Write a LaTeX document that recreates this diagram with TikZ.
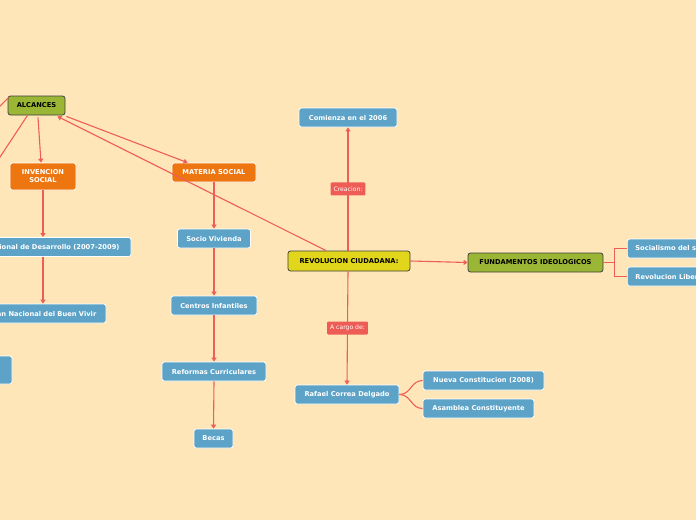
\documentclass[tikz,border=0pt]{standalone}
\usepackage{fontspec}
\setmainfont{DejaVu Sans}
\usetikzlibrary{arrows.meta}
\definecolor{bg}{RGB}{255,230,185}
\definecolor{lineC}{RGB}{238,94,88}
\definecolor{blueC}{RGB}{92,163,199}
\definecolor{orangeC}{RGB}{237,118,17}
\definecolor{greenC}{RGB}{155,181,52}
\definecolor{yellowC}{RGB}{226,214,28}
\definecolor{labC}{RGB}{238,92,86}
\begin{document}
\begin{tikzpicture}[x=1pt,y=-1pt,
  box/.style={rounded corners=2.5pt, minimum height=19pt, inner sep=0pt, align=center,
    font=\fontsize{6.7}{8}\selectfont\bfseries, text=white},
  bluebox/.style={box, fill=blueC, draw=white, line width=0.7pt},
  orangebox/.style={box, fill=orangeC, draw=white, line width=0.7pt},
  greenbox/.style={box, fill=greenC, draw=black!75, line width=0.8pt, text=black},
  yellowbox/.style={box, fill=yellowC, draw=black!75, line width=0.8pt, text=black},
  lab/.style={fill=labC, text=white, rounded corners=1pt, inner xsep=3pt, inner ysep=0pt,
    minimum height=13pt, font=\fontsize{6.1}{7}\selectfont},
  conn/.style={draw=lineC, line width=1.1pt, -{Triangle[width=5pt,length=4pt]}},
  plain/.style={draw=lineC, line width=1.1pt}]
\fill[bg] (0,0) rectangle (696,520);
\useasboundingbox (0,0) rectangle (696,520);

% nodes
\node[greenbox, minimum width=57pt] (alc) at (36.5,105.5) {ALCANCES};
\node[orangebox, minimum width=66pt, minimum height=27pt] (inv) at (43,176.5) {INVENCION\\SOCIAL};
\node[orangebox, minimum width=84pt] (ms) at (214,172.5) {MATERIA SOCIAL};
\node[bluebox, minimum width=176pt] (pnd) at (43,247) {Plan Nacional de Desarrollo (2007-2009)};
\node[bluebox, minimum width=126pt] (pbv) at (43,313.5) {Plan Nacional del Buen Vivir};
\node[bluebox, minimum width=84pt, minimum height=28pt] (lb) at (-30,370) {};
\node[bluebox, minimum width=73pt] (sv) at (214,238.5) {Socio Vivienda};
\node[bluebox, minimum width=86pt] (ci) at (214,305.5) {Centros Infantiles};
\node[bluebox, minimum width=104pt] (rcu) at (214,371.5) {Reformas Curriculares};
\node[bluebox, minimum width=39pt] (bec) at (213.5,438.5) {Becas};
\node[bluebox, minimum width=98pt] (com) at (348,117.5) {Comienza en el 2006};
\node[yellowbox, minimum width=122pt, minimum height=20pt] (rc) at (349,261) {REVOLUCION CIUDADANA:};
\node[bluebox, minimum width=104pt] (raf) at (347,394.5) {Rafael Correa Delgado};
\node[bluebox, minimum width=121pt] (nc) at (483.5,380.5) {Nueva Constitucion (2008)};
\node[bluebox, minimum width=111pt] (ac) at (478.5,408.5) {Asamblea Constituyente};
\node[greenbox, minimum width=135pt] (fund) at (535.5,262.5) {FUNDAMENTOS IDEOLOGICOS};
\node[bluebox, anchor=west, inner xsep=8pt] (soc) at (627,248.5) {Socialismo del siglo XXI};
\node[bluebox, anchor=west, inner xsep=8pt] (rl) at (627,276.5) {Revolucion Liberal};

% off-canvas ends
\coordinate (offa) at (-40,146);
\coordinate (offb) at (-27,198);

% connectors
\draw[plain] ([xshift=-28pt,yshift=-2pt]alc.north) -- (offa);
\draw[plain] ([xshift=-9pt]alc.south) -- (offb);
\draw[conn] ([xshift=-23pt]rc.north) -- ([xshift=-8pt,yshift=-1pt]alc.south east);
\draw[conn] ([xshift=1pt,yshift=-1pt]alc.south east) -- ([xshift=16pt]ms.north west);
\draw[conn] ([xshift=1.5pt,yshift=-2pt]alc.south) -- ([xshift=-2pt]inv.north);
\draw[conn] (inv.south) -- (pnd.north);
\draw[conn] (pnd.south) -- (pbv.north);
\draw[conn] (ms.south) -- (sv.north);
\draw[conn] (sv.south) -- (ci.north);
\draw[conn] (ci.south) -- (rcu.north);
\draw[conn] (rcu.south) -- (bec.north);
\draw[conn] ([xshift=-1pt]rc.north) -- node[lab] {Creacion:} (com.south);
\draw[conn] ([xshift=-1pt]rc.south) -- node[lab] {A cargo de:} (raf.north);
\draw[conn] (rc.east) -- (fund.west);
\coordinate (fj) at ([xshift=11pt]fund.east);
\draw[plain] (fund.east) -- (fj) |- (soc.west);
\draw[plain] (fj) |- (rl.west);
\draw[plain] (raf.east) .. controls +(12,0) and +(-12,0) .. (nc.west);
\draw[plain] (raf.east) .. controls +(12,0) and +(-12,0) .. (ac.west);
\end{tikzpicture}
\end{document}
